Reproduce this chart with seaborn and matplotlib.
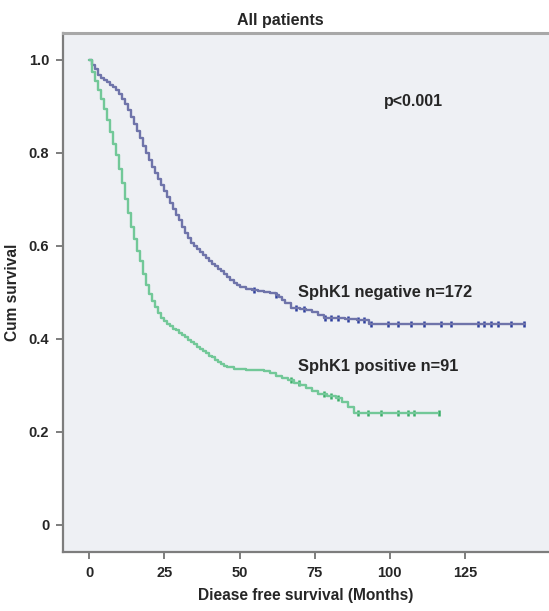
import numpy as np
import pandas as pd
import matplotlib
matplotlib.use("Agg")
import matplotlib.pyplot as plt
import seaborn as sns

# ---- data ----
neg_time = [0, 1, 2, 3, 4, 5, 6, 7, 8, 9, 10, 11, 12, 13, 14, 15, 16, 17, 18, 19, 20,
            21, 22, 23, 24, 25, 26, 27, 28, 29, 30, 31, 32, 33, 34, 35, 36, 37, 38, 39,
            40, 41, 42, 43, 44, 45, 46, 47, 48, 49, 50, 52, 54, 56, 58, 60, 62, 63, 64,
            65, 67, 70, 72, 74, 76, 78, 85, 89, 93, 145]
neg_surv = [1.0, 0.99, 0.98, 0.968, 0.962, 0.957, 0.952, 0.947, 0.942, 0.935, 0.927,
            0.917, 0.905, 0.893, 0.878, 0.862, 0.847, 0.832, 0.815, 0.800, 0.785, 0.770,
            0.756, 0.743, 0.730, 0.718, 0.705, 0.693, 0.680, 0.667, 0.655, 0.641, 0.628,
            0.616, 0.607, 0.600, 0.593, 0.586, 0.580, 0.574, 0.568, 0.562, 0.557, 0.551,
            0.545, 0.539, 0.533, 0.527, 0.521, 0.516, 0.512, 0.508, 0.506, 0.503, 0.500,
            0.498, 0.495, 0.489, 0.483, 0.477, 0.467, 0.465, 0.462, 0.458, 0.452, 0.445,
            0.443, 0.440, 0.432, 0.432]
neg_censor = [54.7, 62, 68.7, 71.3, 78.5, 80.3, 82.7, 86, 89.3, 91.3, 93.7, 99.3, 102.7,
              107, 111.3, 117, 120.3, 129.3, 131.3, 133.7, 136, 140.3, 144.7]

pos_time = [0, 1, 2, 3, 4, 5, 6, 7, 8, 9, 10, 11, 12, 13, 14, 15, 16, 17, 18, 19, 20,
            21, 22, 23, 24, 25, 26, 27, 28, 29, 30, 31, 32, 33, 34, 35, 36, 37, 38, 39,
            40, 41, 42, 43, 44, 45, 46, 48, 52, 56, 58, 60, 62, 64, 66, 68, 70, 72, 74,
            76, 79, 82, 84, 86, 88, 116]
pos_surv = [1.0, 0.975, 0.955, 0.935, 0.915, 0.895, 0.87, 0.845, 0.82, 0.795, 0.765,
            0.735, 0.70, 0.67, 0.64, 0.615, 0.59, 0.567, 0.54, 0.515, 0.497, 0.482,
            0.468, 0.455, 0.445, 0.438, 0.432, 0.427, 0.422, 0.418, 0.413, 0.408, 0.403,
            0.398, 0.393, 0.388, 0.383, 0.378, 0.374, 0.369, 0.364, 0.36, 0.355, 0.35,
            0.346, 0.342, 0.339, 0.336, 0.334, 0.333, 0.33, 0.326, 0.321, 0.316, 0.311,
            0.306, 0.301, 0.295, 0.288, 0.281, 0.276, 0.273, 0.265, 0.253, 0.24, 0.24]
pos_censor = [67, 69.7, 78, 80.3, 82.7, 89.3, 92.7, 97, 102.7, 106, 108, 116.3]

x_ticks = [0, 25, 50, 75, 100, 125]
y_ticks = [0, 0.2, 0.4, 0.6, 0.8, 1.0]
y_tick_labels = ["0", "0.2", "0.4", "0.6", "0.8", "1.0"]


def step_at(times, surv, t):
    idx = np.searchsorted(np.asarray(times), np.asarray(t), side="right") - 1
    return np.asarray(surv)[idx]


sns.set_style("white")
plt.rcParams["font.family"] = ["Liberation Sans", "DejaVu Sans"]
plt.rcParams["font.weight"] = "bold"

fig = plt.figure(figsize=(5.49, 6.11), dpi=100)
ax = fig.add_axes([0.115, 0.097, 0.885, 0.849])
ax.set_facecolor("#eef0f4")

neg_df = pd.DataFrame({"t": neg_time, "s": neg_surv})
pos_df = pd.DataFrame({"t": pos_time, "s": pos_surv})

blue = "#6f74aa"
green = "#72c898"
sns.lineplot(data=neg_df, x="t", y="s", ax=ax, color=blue, lw=1.7,
             drawstyle="steps-post", estimator=None, sort=False)
sns.lineplot(data=pos_df, x="t", y="s", ax=ax, color=green, lw=1.7,
             drawstyle="steps-post", estimator=None, sort=False)

nc = pd.DataFrame({"t": neg_censor, "s": step_at(neg_time, neg_surv, neg_censor)})
pc = pd.DataFrame({"t": pos_censor, "s": step_at(pos_time, pos_surv, pos_censor)})
sns.scatterplot(data=nc, x="t", y="s", ax=ax, marker="|", s=16, color="#2d3f9e",
                linewidth=1.8)
sns.scatterplot(data=pc, x="t", y="s", ax=ax, marker="|", s=16, color="#3aae68",
                linewidth=1.8)

ax.set_xlim(-8.7, 153)
ax.set_ylim(-0.058, 1.058)
ax.set_xticks(x_ticks)
ax.set_xticklabels([str(v) for v in x_ticks])
ax.set_yticks(y_ticks)
ax.set_yticklabels(y_tick_labels)
ax.tick_params(axis="both", which="major", bottom=True, left=True, direction="out",
               length=5, width=1.4, color="#7d7d7d", labelsize=10.5, pad=5)
for lab in ax.get_xticklabels() + ax.get_yticklabels():
    lab.set_fontweight("bold")

for side in ["left", "bottom"]:
    ax.spines[side].set_color("#7d7d7d")
    ax.spines[side].set_linewidth(1.6)
ax.spines["top"].set_color("#a8a8a8")
ax.spines["top"].set_linewidth(2.2)
ax.spines["right"].set_visible(False)

ax.set_xlabel("Diease free survival (Months)", fontsize=11.2, fontweight="bold",
              labelpad=6)
ax.set_ylabel("Cum survival", fontsize=11.2, fontweight="bold", labelpad=6)

fig.text(0.51, 0.967, "All patients", ha="center", va="center", fontsize=11.5,
         fontweight="bold")
ax.text(98, 0.91, "p<0.001", ha="left", va="center", fontsize=11.5, fontweight="bold")
ax.text(69.5, 0.499, "SphK1 negative n=172", ha="left", va="center", fontsize=11.8,
        fontweight="bold")
ax.text(69.5, 0.34, "SphK1 positive n=91", ha="left", va="center", fontsize=11.8,
        fontweight="bold")

fig.savefig("out.png", dpi=100, facecolor="white")
